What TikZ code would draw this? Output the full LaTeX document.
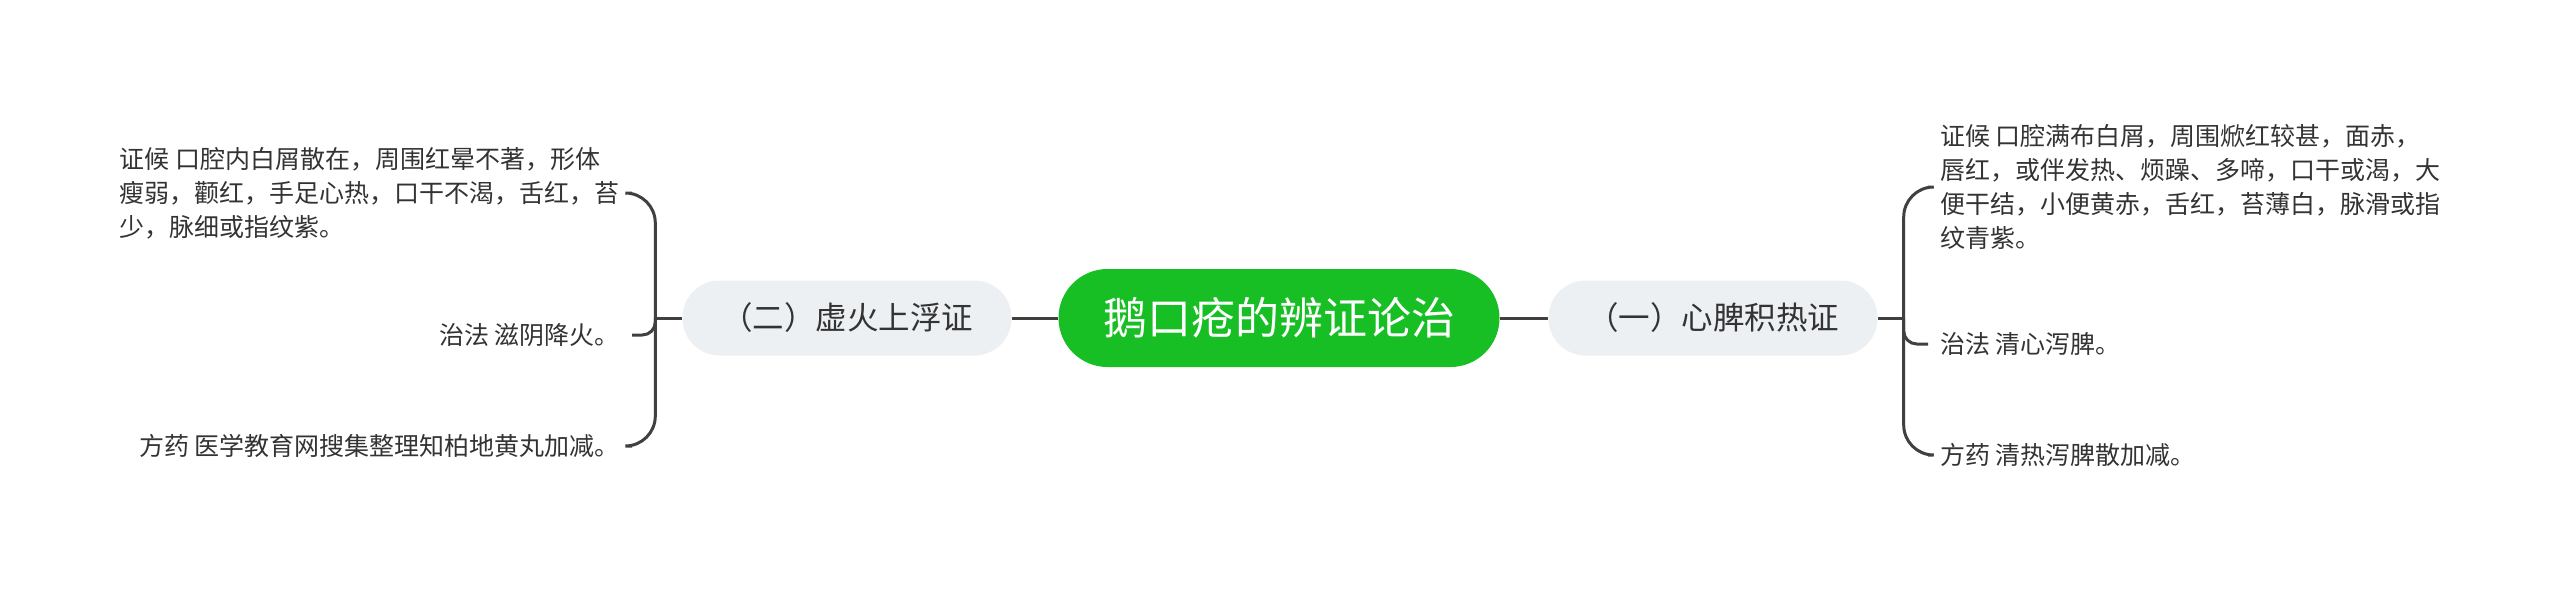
\documentclass[tikz,border=0pt]{standalone}
\usepackage{fontspec}
\setmainfont{Noto Sans CJK SC}
\usetikzlibrary{calc}

\definecolor{rootgreen}{HTML}{17BF24}
\definecolor{pillgray}{HTML}{EDF0F3}
\definecolor{linegray}{HTML}{404040}
\definecolor{txtgray}{HTML}{333333}

\begin{document}
\begin{tikzpicture}[x=1pt, y=-1pt,
    rootpill/.style={fill=rootgreen, rounded corners=49pt, minimum width=441pt, minimum height=98pt, text=white, font=\fontsize{44}{50}\selectfont},
    pill/.style={fill=pillgray, rounded corners=37pt, minimum width=329pt, minimum height=75pt, text=txtgray, font=\fontsize{31.5}{36}\selectfont},
    leaf/.style={inner xsep=12pt, inner ysep=0pt, align=left, text=txtgray, font=\fontsize{25}{34}\selectfont},
    branch/.style={draw=linegray, line width=3pt, rounded corners=30pt},
    shortbranch/.style={branch, rounded corners=13pt}]

    \useasboundingbox (0,0) rectangle (2560,590);

    % Define points for the root and both branches
    \coordinate (pRoot) at (1279,318);
    \coordinate (pL) at (847,318);
    \coordinate (pR) at (1713,318);

    % Draw the root and the two branch pills
    \node[rootpill] (root) at (pRoot) {鹅口疮的辨证论治};
    \node[pill] (xuhuo) at (pL) {（二）虚火上浮证};
    \node[pill] (xinpi) at (pR) {（一）心脾积热证};

    % Leaves of the left branch, right edge at the bracket
    \node[leaf, anchor=east] (xhZheng) at (632,193) {证候 口腔内白屑散在，周围红晕不著，形体\\瘦弱，颧红，手足心热，口干不渴，舌红，苔\\少，脉细或指纹紫。};
    \node[leaf, anchor=east] (xhZhi) at (632,335) {治法 滋阴降火。};
    \node[leaf, anchor=east] (xhFang) at (632,446) {方药 医学教育网搜集整理知柏地黄丸加减。};

    % Leaves of the right branch
    \node[leaf, anchor=west] (xpZheng) at (1928,187) {证候 口腔满布白屑，周围焮红较甚，面赤，\\唇红，或伴发热、烦躁、多啼，口干或渴，大\\便干结，小便黄赤，舌红，苔薄白，脉滑或指\\纹青紫。};
    \node[leaf, anchor=west] (xpZhi) at (1928,344) {治法 清心泻脾。};
    \node[leaf, anchor=west] (xpFang) at (1928,455) {方药 清热泻脾散加减。};

    % Connect root to the pills
    \draw[branch] (root.west) -- (xuhuo.east);
    \draw[branch] (root.east) -- (xinpi.west);

    % Brackets, offset a little outside of each pill
    \coordinate (jL) at ($(xuhuo.west) + (-27,0)$);
    \coordinate (jR) at ($(xinpi.east) + (26,0)$);

    \draw[branch] (xuhuo.west) -- (jL);
    \draw[branch] (jL) |- (xhZheng.east);
    \draw[shortbranch] (jL) |- (xhZhi.east);
    \draw[branch] (jL) |- (xhFang.east);

    \draw[branch] (xinpi.east) -- (jR);
    \draw[branch] (jR) |- (xpZheng.west);
    \draw[shortbranch] (jR) |- (xpZhi.west);
    \draw[branch] (jR) |- (xpFang.west);

\end{tikzpicture}
\end{document}
